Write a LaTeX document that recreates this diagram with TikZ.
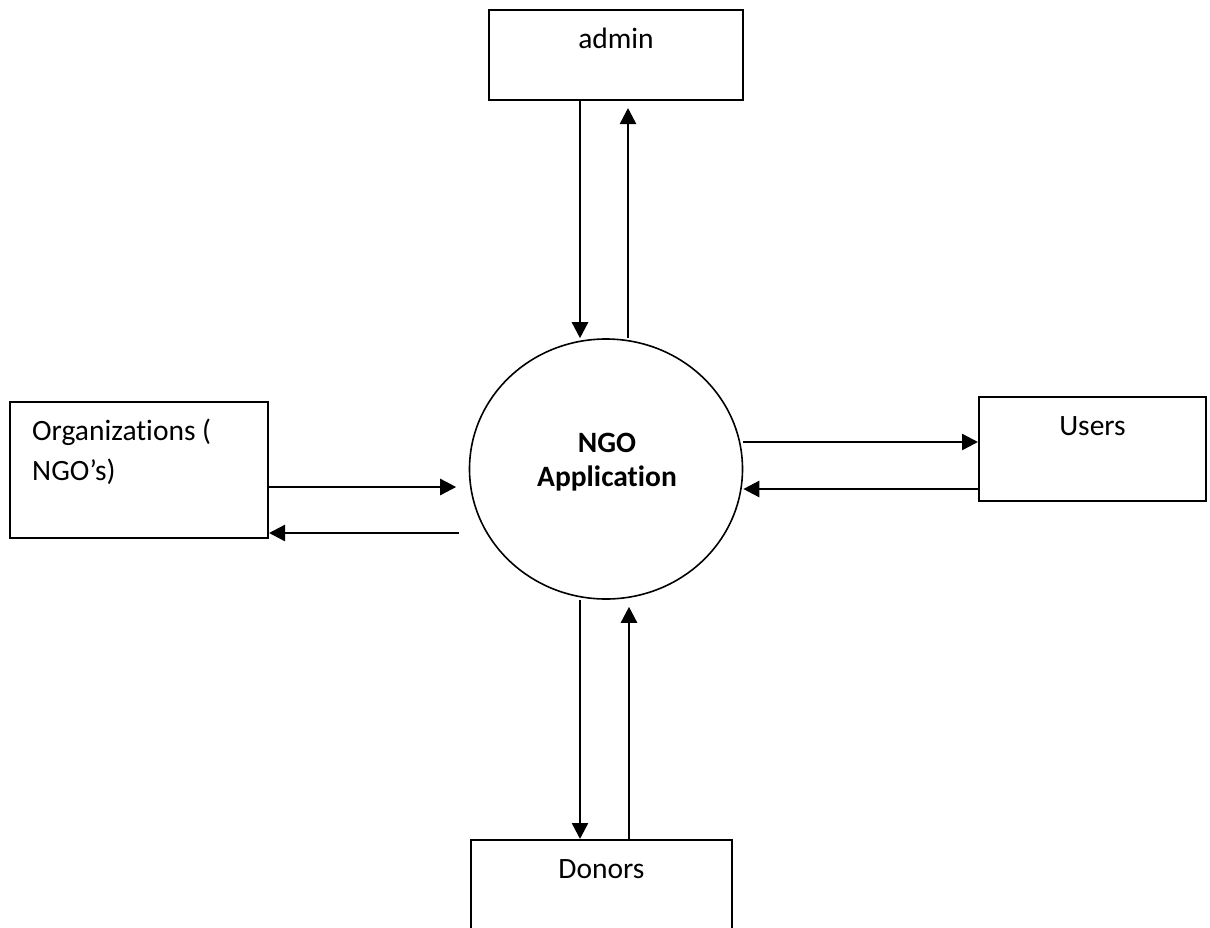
\documentclass[tikz,border=0pt]{standalone}
\usepackage{fontspec}
\setmainfont{Carlito}[Ligatures=NoCommon]
\usetikzlibrary{shapes.geometric,arrows.meta}
\begin{document}
\begin{tikzpicture}[x=1pt,y=-1pt,
  box/.style={draw,line width=2pt,rectangle,inner sep=0pt,anchor=north west},
  lbl/.style={font=\fontsize{29.5}{40}\selectfont,inner sep=0pt,anchor=base},
  arr/.style={line width=2.5pt,-{Triangle[length=16pt,width=16pt]}}]
\useasboundingbox (0,0) rectangle (1210,927);
% boxes
\node[box,minimum width=254pt,minimum height=90pt] (admin) at (488,9) {};
\node[box,minimum width=258pt,minimum height=136pt] (org) at (9,401) {};
\node[box,minimum width=227pt,minimum height=104pt] (users) at (978,396) {};
\node[box,minimum width=261pt,minimum height=100pt] (donors) at (470,839) {};
% labels
\node[lbl] (admintxt) at ([yshift=-39pt]admin.north) {admin};
\node[lbl] (userstxt) at ([yshift=-39pt]users.north) {Users};
\node[lbl] (donorstxt) at ([yshift=-39pt]donors.north) {Donors};
\node[lbl,anchor=base west,align=left] (orgtxt) at ([xshift=23pt,yshift=-79pt]org.north west) {Organizations (\\NGO’s)};
% process
\node[draw,ellipse,line width=1.6pt,minimum width=273pt,minimum height=260pt,inner sep=0pt] (app) at (606,469) {};
\node[font=\bfseries\fontsize{29.5}{34}\selectfont,align=center,inner sep=0pt] (apptxt) at (607,462.5) {NGO\\Application};
% flows
\draw[arr] (admin.south -| 580,0) -- (app.north -| 580,0);
\draw[arr,shorten >=7pt] (app.north -| 628,0) -- (admin.south -| 628,0);
\draw[arr,shorten >=12.5pt] (org.east |- 0,487) -- (app.west |- 0,487);
\draw[arr,shorten <=10pt] (app.west |- 0,533) -- (org.east |- 0,533);
\draw[arr] (app.east |- 0,442) -- (users.west |- 0,442);
\draw[arr] (users.west |- 0,489) -- (app.east |- 0,489);
\draw[arr] (app.south -| 580,0) -- (donors.north -| 580,0);
\draw[arr,shorten >=7pt] (donors.north -| 629,0) -- (app.south -| 629,0);
\end{tikzpicture}
\end{document}
